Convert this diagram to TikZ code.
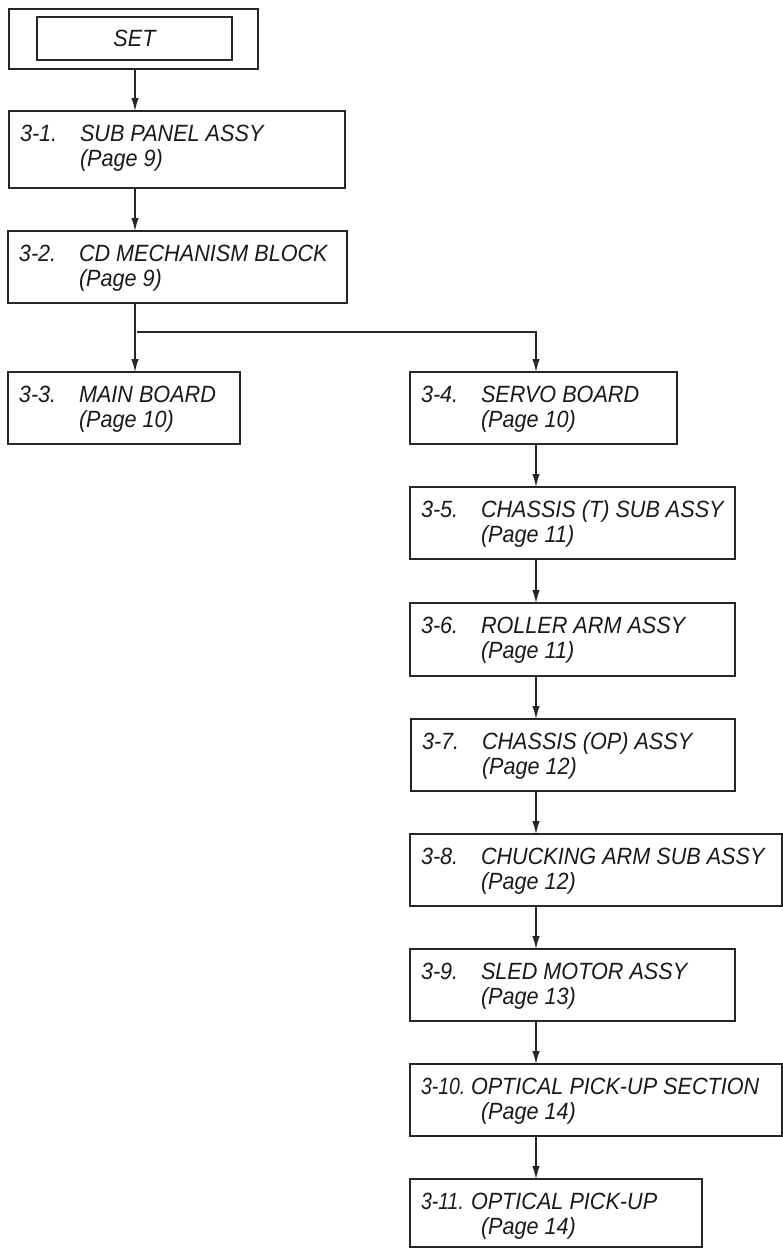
\documentclass[tikz,border=0pt]{standalone}
\usepackage{fontspec}
\setmainfont{Liberation Sans}[FakeStretch=0.92]
\usetikzlibrary{arrows.meta,fit,calc}
\tikzset{
  box/.style={draw=black!85, line width=1.3pt, inner sep=0pt, outer sep=0pt},
  lbl/.style={inner sep=0pt, outer sep=0pt, text=black!90, font=\fontsize{23.5}{27}\selectfont\itshape},
  arr/.style={draw=black!85, line width=1.3pt, -{Latex[length=13pt,width=7.5pt]}},
}
% name, x1, y1, x2, y2, number, title, page, title offset
\newcommand\flowbox[9]{%
  \node[box, fit={(#2,#3) (#4,#5)}] (#1) {};
  \node[lbl, anchor=base west] (#1n) at ($(#1.north west)+(11,30)$) {#6};
  \node[lbl, anchor=base west] (#1t) at ($(#1.north west)+(#9,30)$) {#7};
  \node[lbl, anchor=base west] (#1p) at ($(#1.north west)+(71,55)$) {#8};
}
\begin{document}
\begin{tikzpicture}[x=1pt,y=-1pt]
\useasboundingbox (0,0) rectangle (783,1248);
% SET
\node[box, fit={(9,9) (258,69)}] (setout) {};
\node[box, fit={(37,17) (232,60)}] (setin) {};
\node[lbl] (settxt) at (setin.center) {SET};
\coordinate (cl) at (135,0);
\coordinate (cr) at (536,0);
\flowbox{b1}{9}{111}{345}{188}{3-1.}{SUB PANEL ASSY}{(Page 9)}{71}
\flowbox{b2}{8}{231}{347}{303}{3-2.}{CD MECHANISM BLOCK}{(Page 9)}{71}
\flowbox{b3}{8}{372}{240}{444}{3-3.}{MAIN BOARD}{(Page 10)}{71}
\flowbox{b4}{410}{372}{677}{444}{3-4.}{SERVO BOARD}{(Page 10)}{71}
\flowbox{b5}{410}{487}{735}{559}{3-5.}{CHASSIS (T) SUB ASSY}{(Page 11)}{71}
\flowbox{b6}{410}{603}{735}{676}{3-6.}{ROLLER ARM ASSY}{(Page 11)}{71}
\flowbox{b7}{411}{719}{735}{791}{3-7.}{CHASSIS (OP) ASSY}{(Page 12)}{71}
\flowbox{b8}{410}{834}{782}{906}{3-8.}{CHUCKING ARM SUB ASSY}{(Page 12)}{71}
\flowbox{b9}{410}{949}{735}{1021}{3-9.}{SLED MOTOR ASSY}{(Page 13)}{71}
\flowbox{b10}{410}{1064}{782}{1136}{\scalebox{0.9}[1]{3-10.}}{OPTICAL PICK-UP SECTION}{(Page 14)}{61}
\flowbox{b11}{410}{1179}{702}{1247}{\scalebox{0.9}[1]{3-11.}}{OPTICAL PICK-UP}{(Page 14)}{61}
% connectors
\draw[arr] (setout.south -| cl) -- (b1.north -| cl);
\draw[arr] (b1.south -| cl) -- (b2.north -| cl);
\draw[arr] (b2.south -| cl) -- (b3.north -| cl);
\coordinate (br) at (137,332);
\draw[arr] (br) -| (b4.north -| cr);
\draw[arr] (b4.south -| cr) -- (b5.north -| cr);
\draw[arr] (b5.south -| cr) -- (b6.north -| cr);
\draw[arr] (b6.south -| cr) -- (b7.north -| cr);
\draw[arr] (b7.south -| cr) -- (b8.north -| cr);
\draw[arr] (b8.south -| cr) -- (b9.north -| cr);
\draw[arr] (b9.south -| cr) -- (b10.north -| cr);
\draw[arr] (b10.south -| cr) -- (b11.north -| cr);
\end{tikzpicture}
\end{document}
